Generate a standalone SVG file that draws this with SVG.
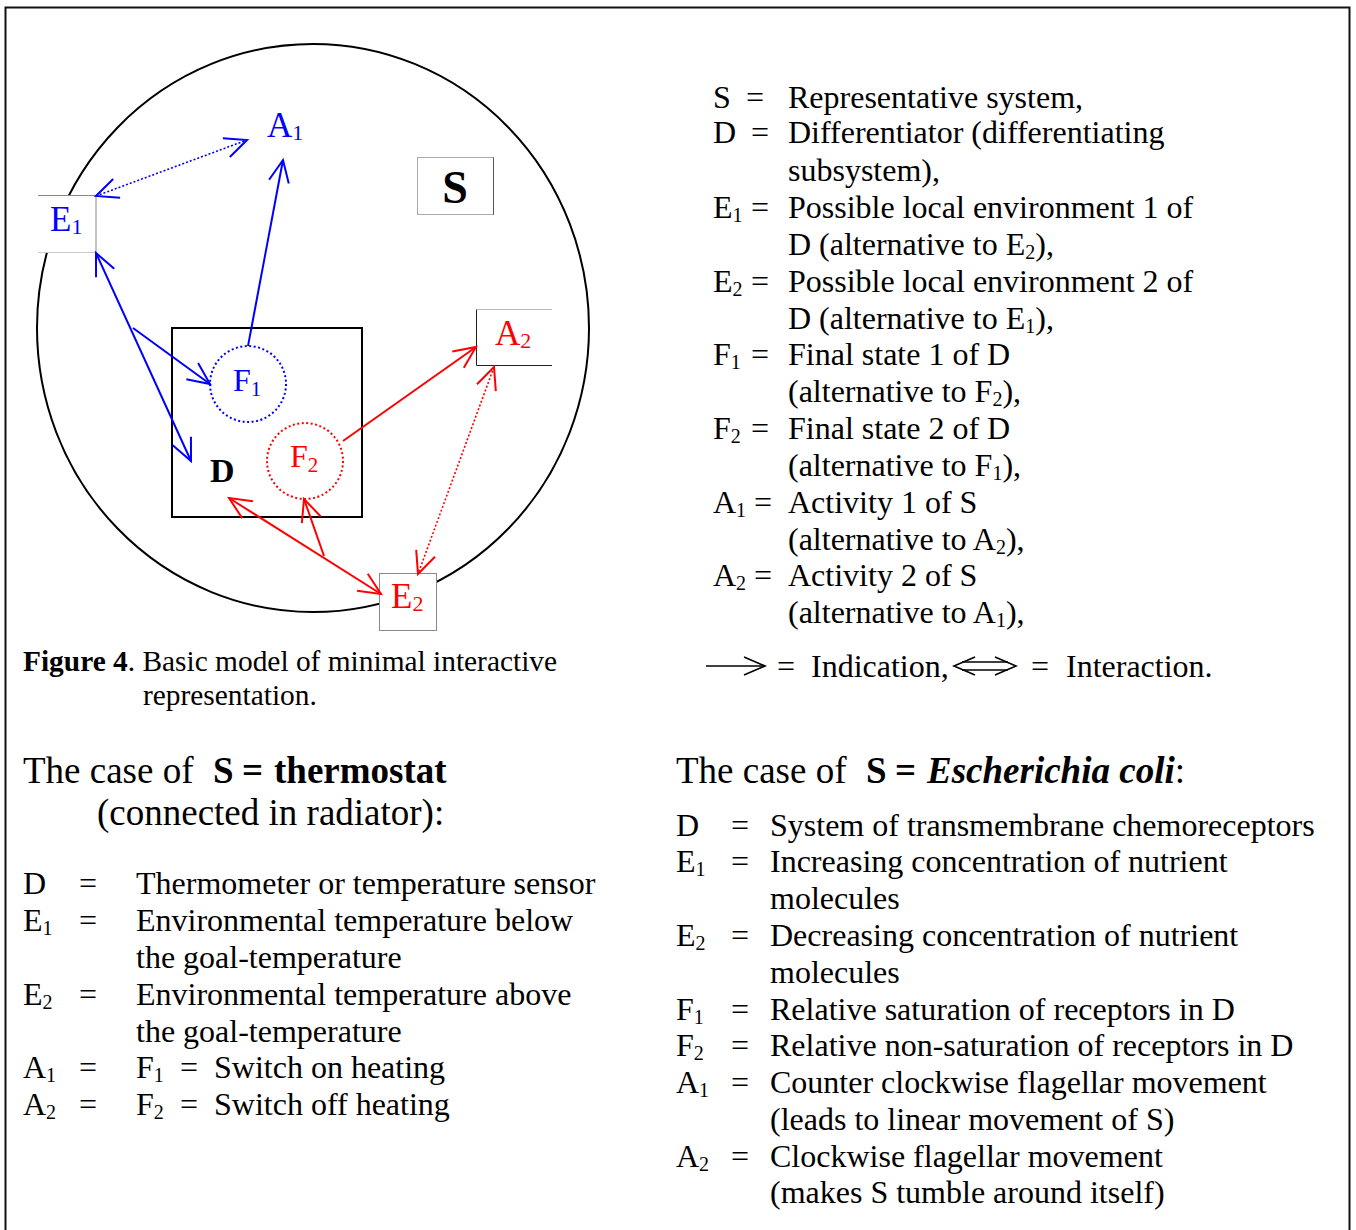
<svg xmlns="http://www.w3.org/2000/svg" width="1356" height="1230" viewBox="0 0 1356 1230">
<style>
text{font-family:"Liberation Serif","Times New Roman",serif;fill:#000}
.t{font-size:32px}
.h{font-size:37px}
.cap{font-size:29.4px}
.b{fill:#0000ff}
.r{fill:#ff0000}
.lab{font-size:35px}
.sl{stroke:#0000ff;stroke-width:2;fill:none}
.sr{stroke:#ff0000;stroke-width:2;fill:none}
.dl{stroke:#0000ff;stroke-width:1.6;stroke-dasharray:2 2;fill:none}
.dr{stroke:#ff0000;stroke-width:1.6;stroke-dasharray:2 2;fill:none}
</style>
<defs>
<marker id="hb" markerUnits="userSpaceOnUse" viewBox="-25 -13 28 26" refX="0" refY="0" markerWidth="28" markerHeight="26" orient="auto-start-reverse">
<path d="M-22,-10 L0,0 L-22,10" fill="none" stroke="#0000ff" stroke-width="2"/>
</marker>
<marker id="hr" markerUnits="userSpaceOnUse" viewBox="-25 -13 28 26" refX="0" refY="0" markerWidth="28" markerHeight="26" orient="auto-start-reverse">
<path d="M-22,-10 L0,0 L-22,10" fill="none" stroke="#ff0000" stroke-width="2"/>
</marker>
</defs>
<rect width="1356" height="1230" fill="#fff"/>
<rect x="5.5" y="7.5" width="1344" height="1240" fill="none" stroke="#111" stroke-width="2"/>

<g id="system-S">
<ellipse cx="313" cy="328" rx="276" ry="284" fill="none" stroke="#000" stroke-width="2"/>
</g>
<g id="S-label">
<rect x="417.5" y="157.5" width="76" height="57" fill="#fff" stroke="#aaa" stroke-width="1"/>
<line x1="493.5" y1="157.5" x2="493.5" y2="214.5" stroke="#555" stroke-width="1"/>
<text x="455" y="203" text-anchor="middle" font-weight="bold" font-size="46">S</text>
</g>
<g id="D">
<rect x="172" y="328" width="190" height="189" fill="none" stroke="#000" stroke-width="2"/>
<text x="210" y="482" font-weight="bold" font-size="34">D</text>
</g>
<g id="F1">
<circle cx="248" cy="384" r="38" fill="none" stroke="#0000ff" stroke-width="2" stroke-dasharray="2 2.5"/>
<text x="233" y="391" class="b" font-size="32">F<tspan font-size="21" dy="5">1</tspan></text>
</g>
<g id="F2">
<circle cx="305" cy="461" r="38" fill="none" stroke="#ff0000" stroke-width="2" stroke-dasharray="2 2.5"/>
<text x="290" y="467" class="r" font-size="32">F<tspan font-size="21" dy="5">2</tspan></text>
</g>
<g id="E1">
<rect x="38" y="195.5" width="58" height="57" fill="#fff" stroke="none"/>
<path d="M38,195.5 H96 V252.5" fill="none" stroke="#888" stroke-width="1"/>
<path d="M38,252.5 H96" fill="none" stroke="#ccc" stroke-width="1"/>
<text x="50" y="231" class="b lab">E<tspan font-size="22" dy="3">1</tspan></text>
</g>
<g id="A1">
<text x="267" y="137" class="b lab">A<tspan font-size="22" dy="3">1</tspan></text>
</g>
<g id="A2">
<rect x="476" y="309" width="76" height="57" fill="#fff" stroke="none"/>
<path d="M552,309.5 H476.5" fill="none" stroke="#bbb" stroke-width="1"/>
<path d="M476.5,309.5 V365.5 H552" fill="none" stroke="#222" stroke-width="1"/>
<text x="495" y="345" class="r lab">A<tspan font-size="22" dy="3">2</tspan></text>
</g>
<g id="E2">
<rect x="379.5" y="573.5" width="57" height="57" fill="#fff" stroke="#888" stroke-width="1"/>
<text x="391" y="608" class="r lab">E<tspan font-size="22" dy="3">2</tspan></text>
</g>

<g id="connectors">
<line x1="96" y1="196" x2="247" y2="140" class="dl" marker-start="url(#hb)" marker-end="url(#hb)"/>
<line x1="248" y1="346" x2="283" y2="160" class="sl" marker-end="url(#hb)"/>
<line x1="96" y1="253" x2="191" y2="461" class="sl" marker-start="url(#hb)" marker-end="url(#hb)"/>
<line x1="133" y1="328" x2="210" y2="384" class="sl" marker-end="url(#hb)"/>
<line x1="343" y1="441" x2="476" y2="347" class="sr" marker-end="url(#hr)"/>
<line x1="494" y1="367" x2="418" y2="574" class="dr" marker-start="url(#hr)" marker-end="url(#hr)"/>
<line x1="229" y1="498" x2="381" y2="594" class="sr" marker-start="url(#hr)" marker-end="url(#hr)"/>
<line x1="324" y1="556" x2="304" y2="499" class="sr" marker-end="url(#hr)"/>
</g>

<g id="caption">
<text x="23" y="671" class="cap"><tspan font-weight="bold">Figure 4</tspan>. Basic model of minimal interactive</text>
<text x="143" y="705" class="cap">representation.</text>
</g>

<g id="legend" class="t">
<text x="713" y="108" class="t">S</text><text x="746" y="108" class="t">=</text><text x="788" y="108" class="t">Representative system,</text>
<text x="713" y="143" class="t">D</text><text x="751" y="143" class="t">=</text><text x="788" y="143" class="t">Differentiator (differentiating</text>
<text x="788" y="181" class="t">subsystem),</text>
<text x="713" y="218" class="t">E<tspan font-size="20" dy="4">1</tspan></text><text x="751" y="218" class="t">=</text><text x="788" y="218" class="t">Possible local environment 1 of</text>
<text x="788" y="255" class="t">D (alternative to E<tspan font-size="20" dy="4">2</tspan><tspan dy="-4">),</tspan></text>
<text x="713" y="292" class="t">E<tspan font-size="20" dy="4">2</tspan></text><text x="751" y="292" class="t">=</text><text x="788" y="292" class="t">Possible local environment 2 of</text>
<text x="788" y="329" class="t">D (alternative to E<tspan font-size="20" dy="4">1</tspan><tspan dy="-4">),</tspan></text>
<text x="713" y="365" class="t">F<tspan font-size="20" dy="4">1</tspan></text><text x="751" y="365" class="t">=</text><text x="788" y="365" class="t">Final state 1 of D</text>
<text x="788" y="402" class="t">(alternative to F<tspan font-size="20" dy="4">2</tspan><tspan dy="-4">),</tspan></text>
<text x="713" y="439" class="t">F<tspan font-size="20" dy="4">2</tspan></text><text x="751" y="439" class="t">=</text><text x="788" y="439" class="t">Final state 2 of D</text>
<text x="788" y="476" class="t">(alternative to F<tspan font-size="20" dy="4">1</tspan><tspan dy="-4">),</tspan></text>
<text x="713" y="513" class="t">A<tspan font-size="20" dy="4">1</tspan></text><text x="754" y="513" class="t">=</text><text x="788" y="513" class="t">Activity 1 of S</text>
<text x="788" y="550" class="t">(alternative to A<tspan font-size="20" dy="4">2</tspan><tspan dy="-4">),</tspan></text>
<text x="713" y="586" class="t">A<tspan font-size="20" dy="4">2</tspan></text><text x="754" y="586" class="t">=</text><text x="788" y="586" class="t">Activity 2 of S</text>
<text x="788" y="623" class="t">(alternative to A<tspan font-size="20" dy="4">1</tspan><tspan dy="-4">),</tspan></text>
</g>

<g id="legend-arrows" stroke="#000" stroke-width="1.6" fill="none">
<line x1="706" y1="666" x2="764" y2="666"/>
<path d="M744,657 L765,666 L744,675"/>
<path d="M975,657 L954,666 L975,675"/>
<path d="M995,657 L1016,666 L995,675"/>
<line x1="962" y1="662" x2="1008" y2="662"/>
<line x1="962" y1="670" x2="1008" y2="670"/>
</g>
<text x="777" y="677" class="t">=</text>
<text x="811" y="677" class="t">Indication,</text>
<text x="1031" y="677" class="t">=</text>
<text x="1066" y="677" class="t">Interaction.</text>

<g id="thermostat">
<text x="23" y="783" class="h">The case of <tspan x="213" font-weight="bold">S</tspan><tspan x="242" font-weight="bold">=</tspan><tspan x="274" font-weight="bold">thermostat</tspan></text>
<text x="97" y="825" class="h">(connected in radiator):</text>
<text x="23" y="894" class="t">D</text><text x="79" y="894" class="t">=</text><text x="136" y="894" class="t">Thermometer or temperature sensor</text>
<text x="23" y="931" class="t">E<tspan font-size="20" dy="4">1</tspan></text><text x="79" y="931" class="t">=</text><text x="136" y="931" class="t">Environmental temperature below</text>
<text x="136" y="968" class="t">the goal-temperature</text>
<text x="23" y="1005" class="t">E<tspan font-size="20" dy="4">2</tspan></text><text x="79" y="1005" class="t">=</text><text x="136" y="1005" class="t">Environmental temperature above</text>
<text x="136" y="1042" class="t">the goal-temperature</text>
<text x="23" y="1078" class="t">A<tspan font-size="20" dy="4">1</tspan></text><text x="79" y="1078" class="t">=</text><text x="136" y="1078" class="t">F<tspan font-size="20" dy="4">1</tspan></text><text x="180" y="1078" class="t">=</text><text x="214" y="1078" class="t">Switch on heating</text>
<text x="23" y="1115" class="t">A<tspan font-size="20" dy="4">2</tspan></text><text x="79" y="1115" class="t">=</text><text x="136" y="1115" class="t">F<tspan font-size="20" dy="4">2</tspan></text><text x="180" y="1115" class="t">=</text><text x="214" y="1115" class="t">Switch off heating</text>
</g>

<g id="ecoli">
<text x="676" y="783" class="h">The case of <tspan x="866" font-weight="bold">S</tspan><tspan x="895" font-weight="bold">=</tspan><tspan x="927" font-weight="bold" font-style="italic">Escherichia coli</tspan><tspan>:</tspan></text>
<text x="676" y="836" class="t">D</text><text x="731" y="836" class="t">=</text><text x="770" y="836" class="t">System of transmembrane chemoreceptors</text>
<text x="676" y="872" class="t">E<tspan font-size="20" dy="4">1</tspan></text><text x="731" y="872" class="t">=</text><text x="770" y="872" class="t">Increasing concentration of nutrient</text>
<text x="770" y="909" class="t">molecules</text>
<text x="676" y="946" class="t">E<tspan font-size="20" dy="4">2</tspan></text><text x="731" y="946" class="t">=</text><text x="770" y="946" class="t">Decreasing concentration of nutrient</text>
<text x="770" y="983" class="t">molecules</text>
<text x="676" y="1020" class="t">F<tspan font-size="20" dy="4">1</tspan></text><text x="731" y="1020" class="t">=</text><text x="770" y="1020" class="t">Relative saturation of receptors in D</text>
<text x="676" y="1056" class="t">F<tspan font-size="20" dy="4">2</tspan></text><text x="731" y="1056" class="t">=</text><text x="770" y="1056" class="t">Relative non-saturation of receptors in D</text>
<text x="676" y="1093" class="t">A<tspan font-size="20" dy="4">1</tspan></text><text x="731" y="1093" class="t">=</text><text x="770" y="1093" class="t">Counter clockwise flagellar movement</text>
<text x="770" y="1130" class="t">(leads to linear movement of S)</text>
<text x="676" y="1167" class="t">A<tspan font-size="20" dy="4">2</tspan></text><text x="731" y="1167" class="t">=</text><text x="770" y="1167" class="t">Clockwise flagellar movement</text>
<text x="770" y="1203" class="t">(makes S tumble around itself)</text>
</g>
</svg>
